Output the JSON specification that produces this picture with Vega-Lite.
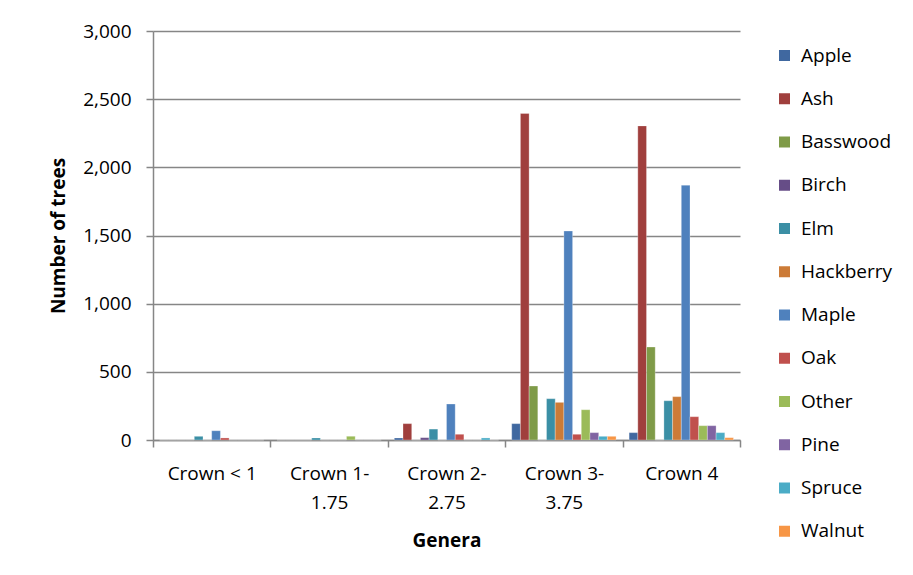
{
  "$schema": "https://vega.github.io/schema/vega-lite/v6.json",
  "width": 587,
  "height": 409,
  "autosize": {"type": "none"},
  "padding": {"left": 153, "top": 31, "right": 173, "bottom": 135},
  "background": "white",
  "config": {
    "view": {"stroke": null},
    "font": "Open Sans",
    "axis": {"labelFont": "Open Sans", "titleFont": "Open Sans", "labelColor": "#000000", "titleColor": "#000000"}
  },
  "data": {
    "values": [
      {"crown": "Crown < 1", "genus": "Apple", "trees": 0},
      {"crown": "Crown < 1", "genus": "Ash", "trees": 0},
      {"crown": "Crown < 1", "genus": "Basswood", "trees": 0},
      {"crown": "Crown < 1", "genus": "Birch", "trees": 0},
      {"crown": "Crown < 1", "genus": "Elm", "trees": 27},
      {"crown": "Crown < 1", "genus": "Hackberry", "trees": 0},
      {"crown": "Crown < 1", "genus": "Maple", "trees": 68},
      {"crown": "Crown < 1", "genus": "Oak", "trees": 15},
      {"crown": "Crown < 1", "genus": "Other", "trees": 0},
      {"crown": "Crown < 1", "genus": "Pine", "trees": 0},
      {"crown": "Crown < 1", "genus": "Spruce", "trees": 0},
      {"crown": "Crown < 1", "genus": "Walnut", "trees": 0},
      {"crown": "Crown 1-1.75", "genus": "Apple", "trees": 0},
      {"crown": "Crown 1-1.75", "genus": "Ash", "trees": 0},
      {"crown": "Crown 1-1.75", "genus": "Basswood", "trees": 0},
      {"crown": "Crown 1-1.75", "genus": "Birch", "trees": 0},
      {"crown": "Crown 1-1.75", "genus": "Elm", "trees": 15},
      {"crown": "Crown 1-1.75", "genus": "Hackberry", "trees": 0},
      {"crown": "Crown 1-1.75", "genus": "Maple", "trees": 0},
      {"crown": "Crown 1-1.75", "genus": "Oak", "trees": 0},
      {"crown": "Crown 1-1.75", "genus": "Other", "trees": 27},
      {"crown": "Crown 1-1.75", "genus": "Pine", "trees": 0},
      {"crown": "Crown 1-1.75", "genus": "Spruce", "trees": 0},
      {"crown": "Crown 1-1.75", "genus": "Walnut", "trees": 0},
      {"crown": "Crown 2-2.75", "genus": "Apple", "trees": 15},
      {"crown": "Crown 2-2.75", "genus": "Ash", "trees": 120},
      {"crown": "Crown 2-2.75", "genus": "Basswood", "trees": 0},
      {"crown": "Crown 2-2.75", "genus": "Birch", "trees": 17},
      {"crown": "Crown 2-2.75", "genus": "Elm", "trees": 80},
      {"crown": "Crown 2-2.75", "genus": "Hackberry", "trees": 0},
      {"crown": "Crown 2-2.75", "genus": "Maple", "trees": 264},
      {"crown": "Crown 2-2.75", "genus": "Oak", "trees": 42},
      {"crown": "Crown 2-2.75", "genus": "Other", "trees": 0},
      {"crown": "Crown 2-2.75", "genus": "Pine", "trees": 0},
      {"crown": "Crown 2-2.75", "genus": "Spruce", "trees": 15},
      {"crown": "Crown 2-2.75", "genus": "Walnut", "trees": 0},
      {"crown": "Crown 3-3.75", "genus": "Apple", "trees": 120},
      {"crown": "Crown 3-3.75", "genus": "Ash", "trees": 2395},
      {"crown": "Crown 3-3.75", "genus": "Basswood", "trees": 396},
      {"crown": "Crown 3-3.75", "genus": "Birch", "trees": 0},
      {"crown": "Crown 3-3.75", "genus": "Elm", "trees": 303},
      {"crown": "Crown 3-3.75", "genus": "Hackberry", "trees": 276},
      {"crown": "Crown 3-3.75", "genus": "Maple", "trees": 1533},
      {"crown": "Crown 3-3.75", "genus": "Oak", "trees": 42},
      {"crown": "Crown 3-3.75", "genus": "Other", "trees": 222},
      {"crown": "Crown 3-3.75", "genus": "Pine", "trees": 54},
      {"crown": "Crown 3-3.75", "genus": "Spruce", "trees": 27},
      {"crown": "Crown 3-3.75", "genus": "Walnut", "trees": 27},
      {"crown": "Crown 4", "genus": "Apple", "trees": 54},
      {"crown": "Crown 4", "genus": "Ash", "trees": 2304},
      {"crown": "Crown 4", "genus": "Basswood", "trees": 682},
      {"crown": "Crown 4", "genus": "Birch", "trees": 0},
      {"crown": "Crown 4", "genus": "Elm", "trees": 288},
      {"crown": "Crown 4", "genus": "Hackberry", "trees": 318},
      {"crown": "Crown 4", "genus": "Maple", "trees": 1869},
      {"crown": "Crown 4", "genus": "Oak", "trees": 171},
      {"crown": "Crown 4", "genus": "Other", "trees": 105},
      {"crown": "Crown 4", "genus": "Pine", "trees": 105},
      {"crown": "Crown 4", "genus": "Spruce", "trees": 54},
      {"crown": "Crown 4", "genus": "Walnut", "trees": 17}
    ]
  },
  "mark": {"type": "bar", "stroke": "#ffffff", "strokeOpacity": 0.35, "strokeWidth": 0.8},
  "encoding": {
    "x": {
      "field": "crown",
      "type": "nominal",
      "sort": null,
      "scale": {"paddingInner": 0, "paddingOuter": 0},
      "axis": {
        "title": "Genera",
        "titleFontSize": 19,
        "titleFontWeight": "bold",
        "titlePadding": 19,
        "labelFontSize": 19,
        "labelAngle": 0,
        "labelPadding": 17,
        "labelLineHeight": 29,
        "labelBaseline": "top",
        "labelExpr": "indexof(datum.label, '-') > 0 ? [slice(datum.label, 0, indexof(datum.label, '-') + 1), slice(datum.label, indexof(datum.label, '-') + 1)] : datum.label",
        "tickBand": "extent",
        "tickSize": 7,
        "tickColor": "#868686",
        "domainColor": "#868686",
        "domainWidth": 1.5,
        "tickWidth": 1.5,
        "grid": false
      }
    },
    "xOffset": {
      "field": "genus",
      "type": "nominal",
      "sort": null,
      "scale": {"paddingInner": 0, "paddingOuter": 0.75}
    },
    "y": {
      "field": "trees",
      "type": "quantitative",
      "scale": {"domain": [0, 3000], "nice": false},
      "axis": {
        "title": "Number of trees",
        "titleFontSize": 19,
        "titleFontWeight": "bold",
        "titlePadding": 14,
        "values": [0, 500, 1000, 1500, 2000, 2500, 3000],
        "format": ",d",
        "labelFontSize": 19,
        "labelPadding": 15,
        "tickSize": 7,
        "tickColor": "#868686",
        "tickWidth": 1.5,
        "domainColor": "#868686",
        "domainWidth": 1.5,
        "grid": true,
        "gridColor": "#868686",
        "gridWidth": 1.5
      }
    },
    "color": {
      "field": "genus",
      "type": "nominal",
      "sort": null,
      "scale": {
        "domain": ["Apple", "Ash", "Basswood", "Birch", "Elm", "Hackberry", "Maple", "Oak", "Other", "Pine", "Spruce", "Walnut"],
        "range": ["#4068A0", "#A03F3D", "#7F9B48", "#664D87", "#3B8FA5", "#CC7B37", "#4F81BD", "#C0504D", "#9BBB59", "#8064A2", "#4BACC6", "#F79646"]
      },
      "legend": {
        "title": null,
        "orient": "none",
        "legendX": 622,
        "legendY": 15,
        "symbolType": "square",
        "symbolSize": 121,
        "symbolStrokeWidth": 0,
        "labelFontSize": 19,
        "labelFont": "Open Sans",
        "labelColor": "#000000",
        "labelOffset": 7,
        "rowPadding": 23.25
      }
    }
  }
}
